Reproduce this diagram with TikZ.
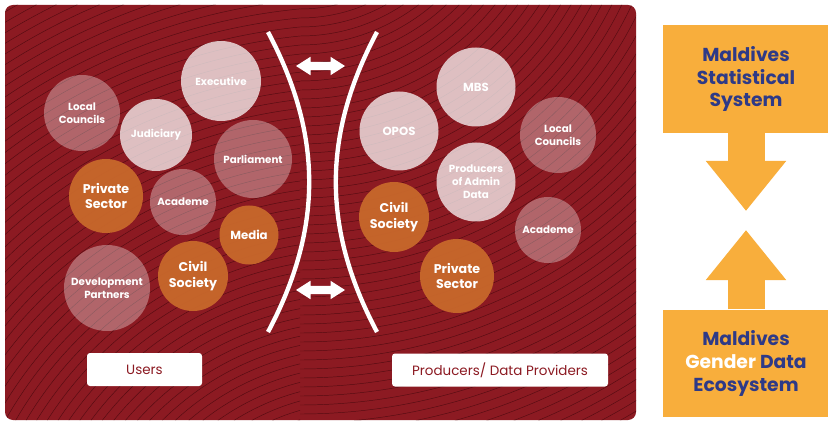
\documentclass[tikz,border=0pt]{standalone}
\usepackage{fontspec}
\setmainfont{Poppins}
\usetikzlibrary{shapes.arrows,arrows.meta}
\definecolor{wine}{HTML}{8C1A22}
\definecolor{wineline}{HTML}{560C12}
\definecolor{rust}{HTML}{C8682B}
\definecolor{amber}{HTML}{F8AE3C}
\definecolor{navy}{HTML}{2E3A87}
\def\px{0.3mm}

\begin{document}
\begin{tikzpicture}[x=0.3mm,y=-0.3mm]
	\tikzstyle{swirl}=[draw=wineline,line width=0.4pt]
	\tikzstyle{bubble}=[circle,inner sep=0pt,text=white,align=center,text opacity=1]
	\tikzstyle{pale bubble}=[bubble,fill=white,fill opacity=0.72]
	\tikzstyle{mauve bubble}=[bubble,fill=white,fill opacity=0.33]
	\tikzstyle{rust bubble}=[bubble,fill=rust,fill opacity=0.95]
	\tikzstyle{small text}=[font=\bfseries\fontsize{8.8}{11.2}\selectfont]
	\tikzstyle{mid text}=[font=\bfseries\fontsize{10}{12}\selectfont]
	\tikzstyle{big text}=[font=\bfseries\fontsize{10.8}{13.6}\selectfont]
	\tikzstyle{bracket}=[draw=white,line width=1.3mm]
	\tikzstyle{swap arrow}=[double arrow,fill=white,inner xsep=0pt,inner ysep=1.2mm,minimum height=14.7mm,double arrow head extend=1.5mm,double arrow tip angle=65]
	\tikzstyle{tag}=[fill=white,rounded corners=0.9mm,text=wine,minimum height=9.9mm,font=\fontsize{11.5}{13}\selectfont]
	\tikzstyle{panel}=[fill=amber,text=navy,align=center,minimum width=49.8mm,minimum height=32.3mm,font=\bfseries\fontsize{16}{19.5}\selectfont]
	\tikzstyle{flow}=[draw=amber,line width=11.1mm,-{Triangle[length=15mm,width=23.1mm]}]
	
	\fill[white] (0,0) rectangle (828,421);
	\useasboundingbox (0,0) rectangle (828,421);
	
	% Draw background panel with swirl lines
	\fill[wine,rounded corners=2.4mm] (5,5) rectangle (636,420);
	\begin{scope}
	\clip[rounded corners=2.4mm] (5,5) rectangle (636,420);
	\begin{scope}
	\clip (0,0) rectangle (300,421);
	\foreach \r in {200,209,...,720}
	\draw[swirl] (360,620) circle[radius=\r];
	\end{scope}
	\begin{scope}
	\clip (300,0) rectangle (640,421);
	\foreach \r in {150,159,...,680}
	\draw[swirl] (300,-150) circle[radius=\r];
	\end{scope}
	\end{scope}
	
	% Draw pale bubbles
	\foreach \name/\x/\y/\r/\sz/\txt in {
		U-exec/221/81/40/small text/Executive,
		U-jud/156/135/36/small text/Judiciary,
		P-mbs/476/87/39.5/mid text/MBS,
		P-opos/399/131/39.5/mid text/OPOS,
		P-admin/476/182/39.5/small text/{Producers\\of Admin\\Data}}
	\node[pale bubble,\sz,minimum size=2*\r*\px] (\name) at (\x,\y) {\txt};
	
	% Draw mauve bubbles
	\foreach \name/\x/\y/\r/\sz/\txt in {
		U-local/82/113/38/small text/{Local\\Councils},
		U-parl/253/159/39/small text/Parliament,
		U-acad/183/202/33/small text/Academe,
		U-dev/107/288/43/small text/{Development\\Partners},
		P-local/558/135/38/small text/{Local\\Councils},
		P-acad/548/230/33/small text/Academe}
	\node[mauve bubble,\sz,minimum size=2*\r*\px] (\name) at (\x,\y) {\txt};
	
	% Draw rust bubbles
	\foreach \name/\x/\y/\r/\sz/\txt in {
		U-priv/106/196/37/big text/{Private\\Sector},
		U-media/249/235/29.5/mid text/Media,
		U-civil/193/276/35/big text/{Civil\\Society},
		P-civil/394/217/35/big text/{Civil\\Society},
		P-priv/457/276/37/big text/{Private\\Sector}}
	\node[rust bubble,\sz,minimum size=2*\r*\px] (\name) at (\x,\y) {\txt};
	
	% Draw brackets and exchange arrows
	\coordinate (LB-top) at (268,32);
	\coordinate (LB-bot) at (268,332);
	\coordinate (RB-top) at (377,32);
	\coordinate (RB-bot) at (377,332);
	\draw[bracket] (LB-top) to[bend left=28] (LB-bot);
	\draw[bracket] (RB-top) to[bend right=28] (RB-bot);
	\node[swap arrow] (X-top) at (320.5,66) {};
	\node[swap arrow] (X-bot) at (320.5,290) {};
	
	% Annotate
	\node[tag,minimum width=34.5mm] (users) at (144.5,369.5) {Users};
	\node[tag,minimum width=64.8mm] (providers) at (500,370) {Producers/ Data Providers};
	
	% Draw system panels
	\node[panel] (msys) at (746,79) {Maldives\\Statistical\\System};
	\node[panel] (mgde) at (746,363.5) {Maldives\\\textcolor{white}{Gender} Data\\Ecosystem};
	\coordinate (msys-tip) at (746,211);
	\coordinate (mgde-tip) at (746,230);
	\draw[flow] (msys.south) -- (msys-tip);
	\draw[flow] (mgde.north) -- (mgde-tip);
\end{tikzpicture}
\end{document}
